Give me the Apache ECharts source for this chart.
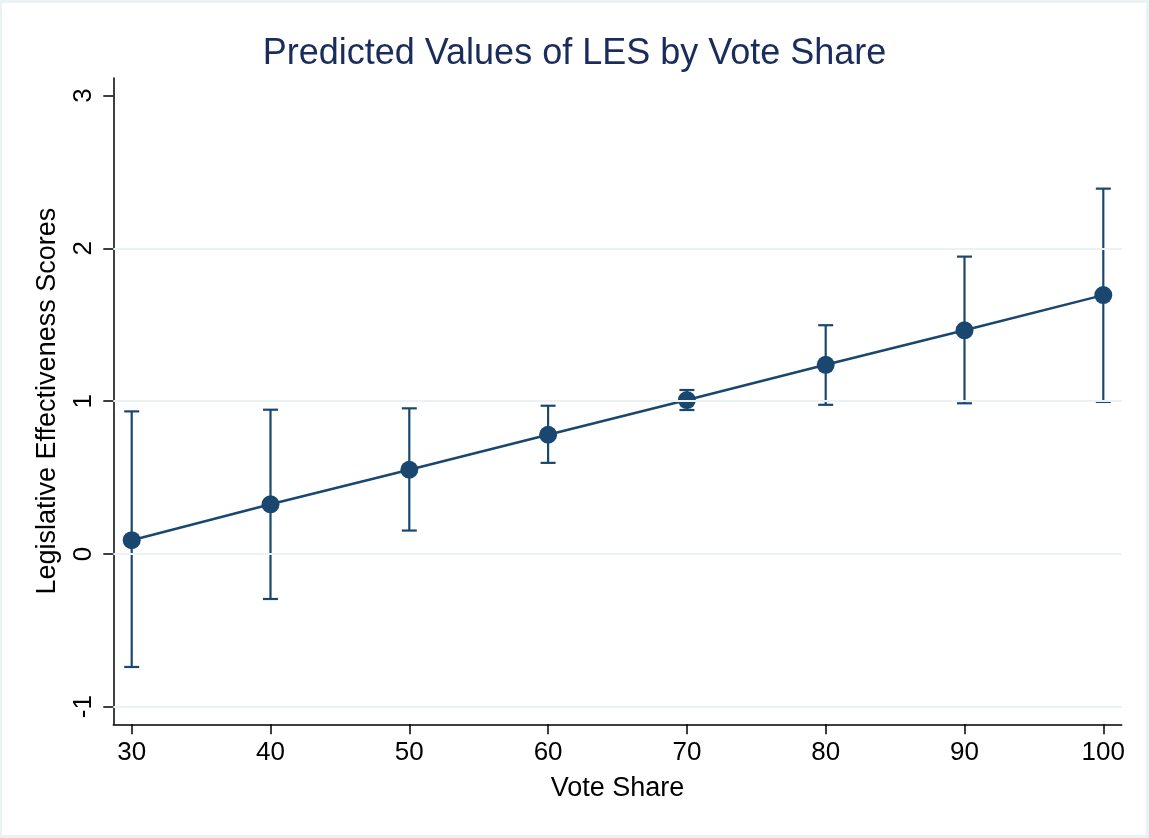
<!DOCTYPE html>
<html>
<head>
<meta charset="utf-8">
<title>Predicted Values of LES by Vote Share</title>
<script src="https://cdn.jsdelivr.net/npm/echarts@6/dist/echarts.min.js"></script>
<style>
  html, body { margin: 0; padding: 0; background: #eaf2f3; }
  #chart { width: 1149px; height: 838px; }
</style>
</head>
<body>
<div id="chart"></div>
<script>
// Vote share categories and predicted LES with 95% confidence bounds
const voteShare = [30, 40, 50, 60, 70, 80, 90, 100];
const predicted = [0.09, 0.325, 0.551, 0.780, 1.007, 1.238, 1.464, 1.694];
const lowerCI   = [-0.74, -0.295, 0.153, 0.596, 0.942, 0.976, 0.986, 0.995];
const upperCI   = [0.933, 0.944, 0.953, 0.970, 1.073, 1.497, 1.946, 2.391];
const gridValues = [-1, 0, 1, 2];

const NAVY = '#1a476f';
const FONT = 'Liberation Sans, Arial, Helvetica, sans-serif';

const pointData = voteShare.map((x, i) => [x, predicted[i]]);
const ciData = voteShare.map((x, i) => [x, lowerCI[i], upperCI[i]]);

const chart = echarts.init(document.getElementById('chart'), null, { renderer: 'canvas' });

chart.setOption({
  backgroundColor: '#eaf2f3',
  animation: false,
  graphic: [{
    type: 'rect',
    z: -10,
    silent: true,
    shape: { x: 2, y: 3, width: 1144, height: 832 },
    style: { fill: '#ffffff' }
  }],
  title: {
    text: 'Predicted Values of LES by Vote Share',
    left: 'center',
    top: 31,
    textStyle: { fontFamily: FONT, fontSize: 36, fontWeight: 'normal', color: '#1a2c5b' }
  },
  grid: [
    // outer frame: full axis lines and grid lines
    { left: 113.3, right: 27.3, top: 78, bottom: 113.7 },
    // inner data region: ticks and labels at the round values
    { left: 131.7, right: 45.7, top: 95.6, bottom: 131.3 }
  ],
  xAxis: [
    {
      gridIndex: 0, type: 'value', min: 28.67, max: 101.33, position: 'bottom',
      axisLine: { show: true, onZero: false, lineStyle: { color: '#000', width: 1.5 } },
      axisTick: { show: false }, axisLabel: { show: false }, splitLine: { show: false },
      name: 'Vote Share', nameLocation: 'middle', nameGap: 51,
      nameTextStyle: { fontFamily: FONT, fontSize: 27, color: '#000' }
    },
    {
      gridIndex: 1, type: 'value', min: 30, max: 100, interval: 10, offset: 17.6, position: 'bottom',
      axisLine: { show: false, onZero: false },
      axisTick: { show: true, length: 10, lineStyle: { color: '#000', width: 1.5 } },
      axisLabel: { fontFamily: FONT, fontSize: 26, color: '#000', margin: 16 },
      splitLine: { show: false }
    }
  ],
  yAxis: [
    {
      gridIndex: 0, type: 'value', min: -1.115, max: 3.115, position: 'left',
      axisLine: { show: true, onZero: false, lineStyle: { color: '#000', width: 1.5 } },
      axisTick: { show: false }, axisLabel: { show: false }, splitLine: { show: false },
      name: 'Legislative Effectiveness Scores', nameLocation: 'middle', nameGap: 52, nameRotate: 90,
      nameTextStyle: { fontFamily: FONT, fontSize: 27, color: '#000' }
    },
    {
      gridIndex: 1, type: 'value', min: -1, max: 3, interval: 1, offset: 18.4, position: 'left',
      axisLine: { show: false, onZero: false },
      axisTick: { show: true, length: 10, lineStyle: { color: '#000', width: 1.5 } },
      axisLabel: { fontFamily: FONT, fontSize: 26, color: '#000', rotate: 90, margin: 16 },
      splitLine: { show: false }
    }
  ],
  series: [
    {
      // horizontal reference lines across the whole plot region
      type: 'line', xAxisIndex: 0, yAxisIndex: 0,
      data: [[30, 0]], showSymbol: false, lineStyle: { opacity: 0 }, silent: true,
      z: 1,
      markLine: {
        silent: true, symbol: 'none', label: { show: false },
        lineStyle: { color: '#eaf2f3', width: 2, type: 'solid' },
        data: gridValues.map(v => ({ yAxis: v }))
      }
    },
    {
      // confidence interval whiskers with caps
      type: 'custom', xAxisIndex: 1, yAxisIndex: 1, z: 3,
      data: ciData,
      renderItem: function (params, api) {
        const x = api.value(0);
        const lo = api.coord([x, api.value(1)]);
        const hi = api.coord([x, api.value(2)]);
        const half = 7.5;
        const style = { stroke: NAVY, lineWidth: 2.2, fill: null };
        return {
          type: 'group',
          children: [
            { type: 'line', shape: { x1: lo[0], y1: lo[1], x2: hi[0], y2: hi[1] }, style: style },
            { type: 'line', shape: { x1: hi[0] - half, y1: hi[1], x2: hi[0] + half, y2: hi[1] }, style: style },
            { type: 'line', shape: { x1: lo[0] - half, y1: lo[1], x2: lo[0] + half, y2: lo[1] }, style: style }
          ]
        };
      }
    },
    {
      // predicted values
      type: 'line', xAxisIndex: 1, yAxisIndex: 1, z: 4,
      data: pointData,
      symbol: 'circle', symbolSize: 18, showSymbol: true,
      lineStyle: { color: NAVY, width: 2.5 },
      itemStyle: { color: NAVY }
    }
  ]
});
</script>
</body>
</html>
